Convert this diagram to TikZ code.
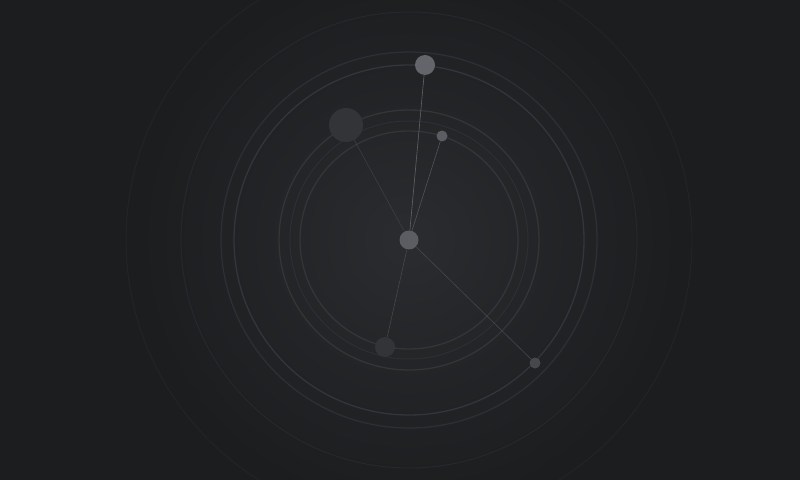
\documentclass[tikz,border=0pt]{standalone}
\usepackage{tikz}
\usetikzlibrary{positioning}
\usepackage{xcolor}

\definecolor{spacebg}{HTML}{1C1D1F}
\definecolor{spaceglow}{HTML}{2A2C2F}
\definecolor{orbitfaint}{HTML}{232427}
\definecolor{orbitdim}{HTML}{27282B}
\definecolor{orbitmid}{HTML}{2E2F32}
\definecolor{orbitlight}{HTML}{343538}
\definecolor{planetlight}{HTML}{5C5D63}
\definecolor{planetdark}{HTML}{333438}

\begin{document}
\begin{tikzpicture}[x=1bp, y=-1bp,
    orbit/.style={draw=#1, line width=1.3bp},
    planet/.style={circle, fill=#1, inner sep=0pt},
    link/.style={draw=#1, line width=0.6bp}]
  % background with soft glow
  \useasboundingbox (0,0) rectangle (800,480);
  \begin{scope}
    \clip (0,0) rectangle (800,480);
    \fill[spacebg] (-10,-10) rectangle (810,490);
    \shade[inner color=spaceglow, outer color=spacebg] (409,240) circle[radius=270];
  \end{scope}

  % orbits
  \draw[orbit=orbitfaint, line width=1bp] (409,240) circle[radius=283];
  \draw[orbit=orbitdim, line width=1bp] (409,240) circle[radius=228];
  \draw[orbit=orbitmid] (409,240) circle[radius=188];
  \draw[orbit=orbitlight] (409,240) circle[radius=175];
  \draw[orbit=orbitlight] (409,240) circle[radius=130];
  \draw[orbit=orbitmid, line width=1bp] (409,240) circle[radius=119];
  \draw[orbit=orbitlight] (409,240) circle[radius=109];

  % planets
  \node[planet=planetlight, minimum size=19bp] (sun) at (409,240) {};
  \node[planet=planetlight!95!white, minimum size=20bp] (north) at (425,65) {};
  \node[planet=planetdark, minimum size=34bp] (giant) at (346,125) {};
  \node[planet=planetlight, minimum size=11bp] (moon) at (442,136) {};
  \node[planet=planetdark, minimum size=20bp] (south) at (385,347) {};
  \node[planet=planetdark!90!white, minimum size=11bp] (drift) at (535,363) {};

  % links from the centre
  \path[link=gray!70!spacebg] (sun) -- (north);
  \path[link=planetlight!85!spacebg] (sun) -- (moon);
  \path[link=planetdark!95!white] (sun) -- (giant);
  \path[link=planetlight!65!spacebg] (sun) -- (south);
  \path[link=planetlight!65!spacebg] (sun) -- (drift);
\end{tikzpicture}
\end{document}
